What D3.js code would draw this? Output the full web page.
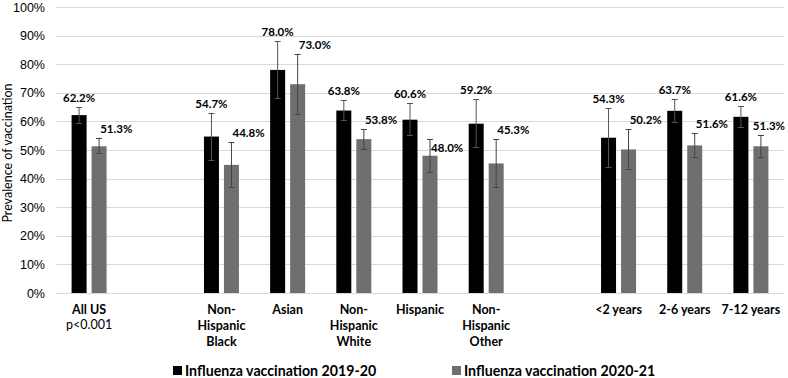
<!DOCTYPE html>
<html>
<head>
<meta charset="utf-8">
<script src="https://cdn.jsdelivr.net/npm/d3@7"></script>
<style>
  body { margin: 0; background: #fff; }
  svg { font-family: Lato, "Open Sans", sans-serif; }
</style>
</head>
<body>
<div id="chart"></div>
<script>
// categories ("" = empty slot between groups)
var categories = ["All US", "", "Non-\nHispanic\nBlack", "Asian", "Non-\nHispanic\nWhite", "Hispanic",
                  "Non-\nHispanic\nOther", "", "<2 years", "2-6 years", "7-12 years"];
var subLabels = ["p<0.001", "", "", "", "", "", "", "", "", "", ""];
var seriesNames = ["Influenza vaccination 2019-20", "Influenza vaccination 2020-21"];

var v2019 = [62.2, null, 54.7, 78.0, 63.8, 60.6, 59.2, null, 54.3, 63.7, 61.6];
var lo2019 = [59.5, null, 46.4, 68.1, 60.4, 55.1, 51.0, null, 44.0, 59.7, 57.9];
var hi2019 = [65.0, null, 63.0, 88.1, 67.5, 66.3, 67.7, null, 64.6, 67.7, 65.4];

var v2020 = [51.3, null, 44.8, 73.0, 53.8, 48.0, 45.3, null, 50.2, 51.6, 51.3];
var lo2020 = [49.0, null, 37.0, 62.5, 50.2, 42.4, 37.0, null, 43.5, 47.4, 47.4];
var hi2020 = [54.3, null, 52.7, 83.6, 57.3, 53.7, 53.8, null, 57.2, 55.8, 55.1];

var yTicks = [0, 10, 20, 30, 40, 50, 60, 70, 80, 90, 100];

var colors = ["#000000", "#6f6f6f"];

var width = 788, height = 378;
var margin = {top: 7, right: 4, bottom: 85, left: 56};
var w = width - margin.left - margin.right,
    h = height - margin.top - margin.bottom;

var svg = d3.select("#chart").append("svg")
    .attr("width", width)
    .attr("height", height);

var g = svg.append("g")
    .attr("transform", "translate(" + margin.left + "," + margin.top + ")");

var x = d3.scaleBand()
    .domain(d3.range(categories.length))
    .range([0, w])
    .padding(0);

var y = d3.scaleLinear()
    .domain([0, 100])
    .range([h, 0]);

// inner band for the two series
var x1 = d3.scaleBand()
    .domain([0, 1])
    .range([-17.5, 17.5])
    .paddingInner(0.25);

// grid
g.append("g")
    .selectAll("line")
    .data(yTicks)
    .join("line")
    .attr("x1", 0)
    .attr("x2", w)
    .attr("y1", d => Math.round(y(d)) + 0.5)
    .attr("y2", d => Math.round(y(d)) + 0.5)
    .attr("stroke", "#d9d9d9")
    .attr("stroke-width", 1);

// y axis labels
var yAxis = g.append("g")
    .call(d3.axisLeft(y).tickValues(yTicks).tickFormat(d => d + "%").tickSize(0).tickPadding(11));
yAxis.select(".domain").remove();
yAxis.selectAll("text")
    .style("font-size", "12.5px")
    .attr("fill", "#000");

svg.append("text")
    .attr("transform", "translate(12," + (margin.top + 146) + ")rotate(-90)")
    .attr("text-anchor", "middle")
    .style("font-size", "12.5px")
    .text("Prevalence of vaccination");

var series = [
    {vals: v2019, lo: lo2019, hi: hi2019},
    {vals: v2020, lo: lo2020, hi: hi2020}
];

var cx = i => x(i) + x.bandwidth() / 2;

series.forEach(function(s, si) {
    var rows = s.vals.map((v, i) => ({i: i, v: v, lo: s.lo[i], hi: s.hi[i]}))
        .filter(d => d.v !== null);

    g.append("g")
        .selectAll("rect")
        .data(rows)
        .join("rect")
        .attr("x", d => cx(d.i) + x1(si))
        .attr("y", d => y(d.v))
        .attr("width", x1.bandwidth())
        .attr("height", d => y(0) - y(d.v))
        .attr("fill", colors[si]);

    var eb = g.append("g")
        .attr("stroke", si == 0 ? "#555" : "#444")
        .attr("stroke-width", 1);
    eb.selectAll(".stem")
        .data(rows)
        .join("line")
        .attr("x1", d => cx(d.i) + x1(si) + x1.bandwidth() / 2)
        .attr("x2", d => cx(d.i) + x1(si) + x1.bandwidth() / 2)
        .attr("y1", d => y(d.lo))
        .attr("y2", d => y(d.hi));
    ["lo", "hi"].forEach(function(k) {
        eb.selectAll(".cap" + k)
            .data(rows)
            .join("line")
            .attr("x1", d => cx(d.i) + x1(si) + x1.bandwidth() / 2 - 3)
            .attr("x2", d => cx(d.i) + x1(si) + x1.bandwidth() / 2 + 3)
            .attr("y1", d => Math.round(y(d[k])) + 0.5)
            .attr("y2", d => Math.round(y(d[k])) + 0.5);
    });
});

// value labels: 2019-20 centred above its bar, 2020-21 starting at its bar and
// pushed right if it would run into the first label
var lblG = g.append("g")
    .style("font-size", "11.5px")
    .style("font-weight", "bold");

var blackEnd = {};
v2019.forEach(function(v, i) {
    if (v === null) return;
    var t = lblG.append("text")
        .attr("x", cx(i) + x1(0) + x1.bandwidth() / 2)
        .attr("y", y(hi2019[i]) - 5)
        .attr("text-anchor", "middle")
        .text(v.toFixed(1) + "%");
    blackEnd[i] = cx(i) + x1(0) + x1.bandwidth() / 2 + t.node().getComputedTextLength() / 2;
});
v2020.forEach(function(v, i) {
    if (v === null) return;
    // the Hispanic label sits on the bar, over the error bar
    var yy = categories[i] == "Hispanic" ? y(v) - 4 : y(hi2020[i]) - 5;
    var t = lblG.append("text")
        .attr("y", yy)
        .text(v.toFixed(1) + "%");
    var len = t.node().getComputedTextLength();
    var left = Math.max(cx(i) + x1(1), blackEnd[i] + 5);
    left = Math.min(left, w + 1 - len);
    t.attr("x", left);
});

// category labels
var catG = g.append("g")
    .attr("transform", "translate(0," + h + ")");
categories.forEach(function(c, i) {
    if (c === "") return;
    var t = catG.append("text")
        .attr("text-anchor", "middle")
        .attr("y", 21)
        .style("font-size", "12.5px")
        .style("font-weight", "bold");
    c.split("\n").forEach(function(line, k) {
        t.append("tspan")
            .attr("x", cx(i))
            .attr("dy", k == 0 ? 0 : 16)
            .text(line);
    });
    if (subLabels[i]) {
        catG.append("text")
            .attr("x", cx(i))
            .attr("y", 36)
            .attr("text-anchor", "middle")
            .style("font-size", "12.5px")
            .text(subLabels[i]);
    }
});

// legend
var legX = [173, 452];
var leg = svg.append("g")
    .selectAll("g")
    .data(seriesNames)
    .join("g")
    .attr("transform", (d, i) => "translate(" + legX[i] + ",366)");
leg.append("rect")
    .attr("width", 9)
    .attr("height", 9)
    .attr("fill", (d, i) => colors[i]);
leg.append("text")
    .attr("x", 12)
    .attr("y", 9.5)
    .style("font-size", "14.2px")
    .style("font-weight", "bold")
    .text(d => d);
</script>
</body>
</html>
